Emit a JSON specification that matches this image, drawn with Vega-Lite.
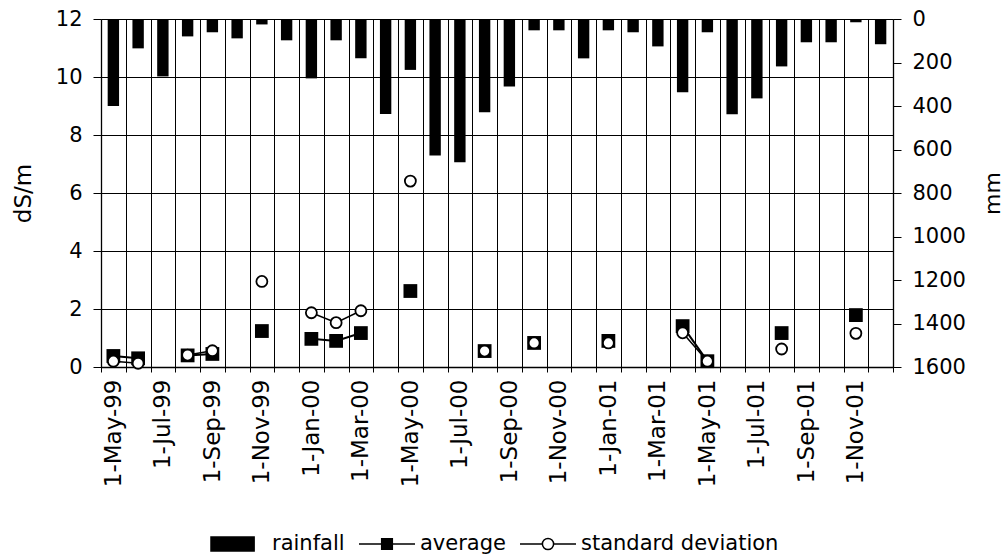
{
  "$schema": "https://vega.github.io/schema/vega-lite/v6.json",
  "width": 792,
  "height": 348,
  "autosize": {"type": "none"},
  "padding": {"left": 101, "top": 19, "right": 114, "bottom": 189},
  "background": "white",
  "data": {
    "values": [
      {"month": "1-May-99", "rainfall": 400, "average": 0.38, "standard deviation": 0.2},
      {"month": "1-Jun-99", "rainfall": 135, "average": 0.3, "standard deviation": 0.13},
      {"month": "1-Jul-99", "rainfall": 264, "average": null, "standard deviation": null},
      {"month": "1-Aug-99", "rainfall": 80, "average": 0.4, "standard deviation": 0.41},
      {"month": "1-Sep-99", "rainfall": 61, "average": 0.45, "standard deviation": 0.56},
      {"month": "1-Oct-99", "rainfall": 89, "average": null, "standard deviation": null},
      {"month": "1-Nov-99", "rainfall": 25, "average": 1.24, "standard deviation": 2.95},
      {"month": "1-Dec-99", "rainfall": 98, "average": null, "standard deviation": null},
      {"month": "1-Jan-00", "rainfall": 273, "average": 0.97, "standard deviation": 1.87},
      {"month": "1-Feb-00", "rainfall": 98, "average": 0.9, "standard deviation": 1.53},
      {"month": "1-Mar-00", "rainfall": 181, "average": 1.17, "standard deviation": 1.94},
      {"month": "1-Apr-00", "rainfall": 437, "average": null, "standard deviation": null},
      {"month": "1-May-00", "rainfall": 234, "average": 2.62, "standard deviation": 6.41},
      {"month": "1-Jun-00", "rainfall": 628, "average": null, "standard deviation": null},
      {"month": "1-Jul-00", "rainfall": 659, "average": null, "standard deviation": null},
      {"month": "1-Aug-00", "rainfall": 429, "average": 0.55, "standard deviation": 0.55},
      {"month": "1-Sep-00", "rainfall": 310, "average": null, "standard deviation": null},
      {"month": "1-Oct-00", "rainfall": 52, "average": 0.83, "standard deviation": 0.83},
      {"month": "1-Nov-00", "rainfall": 52, "average": null, "standard deviation": null},
      {"month": "1-Dec-00", "rainfall": 181, "average": null, "standard deviation": null},
      {"month": "1-Jan-01", "rainfall": 52, "average": 0.9, "standard deviation": 0.83},
      {"month": "1-Feb-01", "rainfall": 61, "average": null, "standard deviation": null},
      {"month": "1-Mar-01", "rainfall": 126, "average": null, "standard deviation": null},
      {"month": "1-Apr-01", "rainfall": 337, "average": 1.41, "standard deviation": 1.18},
      {"month": "1-May-01", "rainfall": 61, "average": 0.2, "standard deviation": 0.2},
      {"month": "1-Jun-01", "rainfall": 438, "average": null, "standard deviation": null},
      {"month": "1-Jul-01", "rainfall": 365, "average": null, "standard deviation": null},
      {"month": "1-Aug-01", "rainfall": 218, "average": 1.17, "standard deviation": 0.62},
      {"month": "1-Sep-01", "rainfall": 107, "average": null, "standard deviation": null},
      {"month": "1-Oct-01", "rainfall": 107, "average": null, "standard deviation": null},
      {"month": "1-Nov-01", "rainfall": 15, "average": 1.79, "standard deviation": 1.16},
      {"month": "1-Dec-01", "rainfall": 116, "average": null, "standard deviation": null}
    ]
  },
  "layer": [
    {
      "mark": {"type": "bar", "color": "black", "width": {"band": 0.46}},
      "encoding": {
        "x": {
          "field": "month", "type": "ordinal", "sort": null,
          "scale": {"type": "band", "paddingInner": 0, "paddingOuter": 0},
          "axis": {
            "title": null, "tickBand": "extent", "grid": true, "gridColor": "black", "gridOpacity": 1, "gridWidth": 1,
            "ticks": true, "tickColor": "black", "tickSize": 5, "domainColor": "black", "domainWidth": 1.5,
            "labelAngle": -90, "labelAlign": "right", "labelBaseline": "middle", "labelPadding": 7,
            "labelFont": "DejaVu Sans", "labelFontSize": 23, "labelColor": "black", "labelOverlap": false,
            "labelExpr": "indexof(['Jan','Mar','May','Jul','Sep','Nov'], slice(datum.label, 2, 5)) >= 0 ? datum.label : ''"
          }
        },
        "y": {
          "field": "rainfall", "type": "quantitative",
          "scale": {"domain": [0, 1600], "reverse": true, "nice": false, "zero": true},
          "axis": {
            "orient": "right", "title": "mm", "grid": false, "format": "d",
            "values": [0, 200, 400, 600, 800, 1000, 1200, 1400, 1600],
            "tickColor": "black", "tickSize": 8, "domainColor": "black", "domainWidth": 1.3,
            "labelFont": "DejaVu Sans", "labelFontSize": 21, "labelColor": "black", "labelPadding": 11,
            "titleFont": "DejaVu Sans", "titleFontSize": 22, "titleFontWeight": "normal", "titleColor": "black",
            "titleAngle": -90, "titleX": 106, "titleY": 174, "titleAlign": "center", "titleBaseline": "alphabetic"
          }
        }
      }
    },
    {
      "layer": [
        {
          "mark": {"type": "line", "color": "black", "strokeWidth": 2, "invalid": "break-paths-show-domains"},
          "encoding": {
            "x": {"field": "month", "type": "ordinal", "sort": null},
            "y": {
              "field": "average", "type": "quantitative",
              "scale": {"domain": [0, 12], "nice": false},
              "axis": {
                "orient": "left", "title": "dS/m", "values": [0, 2, 4, 6, 8, 10, 12],
                "grid": true, "gridColor": "black", "gridOpacity": 1,
                "tickColor": "black", "tickSize": 8, "domainColor": "black", "domainWidth": 1.3,
                "labelFont": "DejaVu Sans", "labelFontSize": 21, "labelColor": "black", "labelPadding": 11,
                "titleFont": "DejaVu Sans", "titleFontSize": 23, "titleFontWeight": "normal", "titleColor": "black",
                "titleAngle": -90, "titleX": -71, "titleY": 174, "titleAlign": "center", "titleBaseline": "alphabetic"
              }
            }
          }
        },
        {
          "mark": {"type": "point", "shape": "square", "filled": true, "color": "black", "size": 190, "opacity": 1},
          "encoding": {
            "x": {"field": "month", "type": "ordinal", "sort": null},
            "y": {"field": "average", "type": "quantitative"}
          }
        },
        {
          "mark": {"type": "line", "color": "black", "strokeWidth": 1.5, "invalid": "break-paths-show-domains"},
          "encoding": {
            "x": {"field": "month", "type": "ordinal", "sort": null},
            "y": {"field": "standard deviation", "type": "quantitative"}
          }
        },
        {
          "mark": {"type": "point", "shape": "circle", "filled": true, "fill": "white", "stroke": "black", "strokeWidth": 1.8, "size": 121, "opacity": 1},
          "encoding": {
            "x": {"field": "month", "type": "ordinal", "sort": null},
            "y": {"field": "standard deviation", "type": "quantitative"}
          }
        },
        {
          "transform": [
            {"fold": ["rainfall", "average", "standard deviation"], "as": ["series", "value"]},
            {"filter": "false"}
          ],
          "mark": {"type": "point", "filled": true, "strokeWidth": 1.5, "opacity": 1},
          "encoding": {
            "shape": {
              "field": "series", "type": "nominal",
              "scale": {
                "domain": ["rainfall", "average", "standard deviation"],
                "range": [
                  "M-1,-0.25L0.54,-0.25L0.54,0.25L-1,0.25Z",
                  "M-1,0L1,0M-0.19,-0.19L0.19,-0.19L0.19,0.19L-0.19,0.19Z",
                  "M-1,0L-0.2,0M0.2,0L1,0M0.2,0A0.2,0.2,0,1,1,-0.2,0A0.2,0.2,0,1,1,0.2,0Z"
                ]
              },
              "legend": {
                "title": null, "orient": "none", "legendX": 109, "legendY": 496, "direction": "horizontal",
                "labelFont": "DejaVu Sans", "labelFontSize": 21, "labelColor": "black", "labelOffset": 4, "labelLimit": 400,
                "columnPadding": 11, "symbolSize": 3136, "symbolStrokeWidth": 1.5, "symbolStrokeColor": "black",
                "symbolOpacity": 1, "padding": 0
              }
            },
            "fill": {
              "field": "series", "type": "nominal",
              "scale": {"domain": ["rainfall", "average", "standard deviation"], "range": ["black", "black", "white"]}
            },
            "stroke": {
              "field": "series", "type": "nominal",
              "scale": {"domain": ["rainfall", "average", "standard deviation"], "range": ["black", "black", "black"]}
            }
          }
        }
      ]
    }
  ],
  "resolve": {"scale": {"y": "independent"}, "axis": {"y": "independent"}},
  "config": {
    "view": {"stroke": null},
    "axis": {"labelFont": "DejaVu Sans", "titleFont": "DejaVu Sans"},
    "legend": {"labelLimit": 400, "symbolStrokeWidth": 1.5}
  }
}
